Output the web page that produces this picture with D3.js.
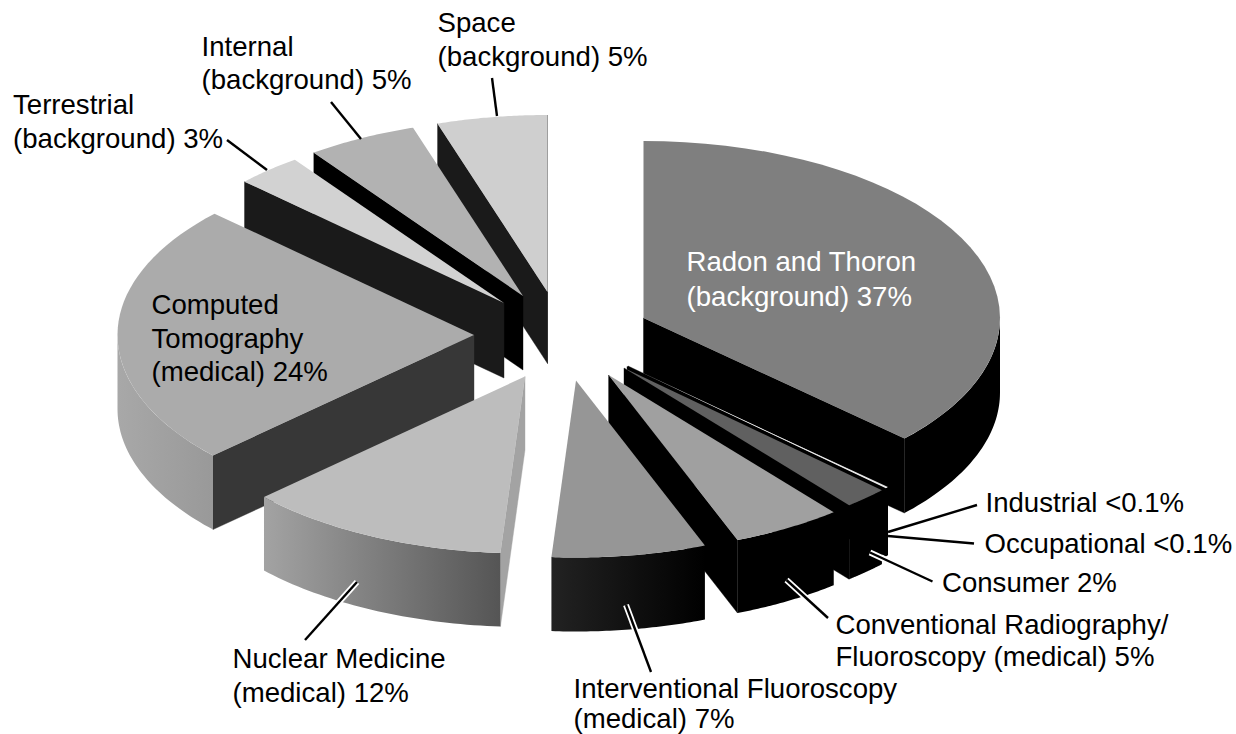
<!DOCTYPE html>
<html>
<head>
<meta charset="utf-8">
<script src="https://cdn.jsdelivr.net/npm/d3@7/dist/d3.min.js"></script>
<style>
html,body{margin:0;padding:0;background:#fff;overflow:hidden;}
svg{display:block;}
text{font-family:"Liberation Sans",Arial,sans-serif;font-size:27.6px;}
</style>
</head>
<body>
<svg id="chart" width="1236" height="734"></svg>
<script>
// ---- data ----
const categories = ["Radon and Thoron","Industrial","Occupational","Consumer","Conventional Radiography/Fluoroscopy","Interventional Fluoroscopy","Nuclear Medicine","Computed Tomography","Terrestrial","Internal","Space"];
const percentages = [37,0.1,0.1,2,5,7,12,24,3,5,5];
const labelLines = [
  ["Radon and Thoron","(background) 37%"],["Industrial <0.1%"],["Occupational <0.1%"],["Consumer 2%"],
  ["Conventional Radiography/","Fluoroscopy (medical) 5%"],["Interventional Fluoroscopy","(medical) 7%"],
  ["Nuclear Medicine","(medical) 12%"],["Computed","Tomography","(medical) 24%"],
  ["Terrestrial","(background) 3%"],["Internal","(background) 5%"],["Space","(background) 5%"]
];

// ---- layout and style ----
const W = 1236, H = 734, cx = 580, cy = 335, rx = 356.5, ry = 177;
const explodeX = [63.5,47,48,44,28.6,-4,-55,-106,-76,-57,-32.5];
const explodeY = [-17,31.5,31,33,40,45.5,41.5,0,-32,-39,-43];
const depths   = [74.5,68,68,74,73,74,73.5,74,75,74,71.5];
const topFill  = ["#7f7f7f","#d0d0d0","#eeeeee","#606060","#a0a0a0","#969696","#bdbdbd","#ababab","#d2d2d2","#b2b2b2","#cfcfcf"];
const cutFill  = ["#000","#000","#000","#000","#000","#000","#a3a3a3","#373737","#1a1a1a","#000","#1a1a1a"];
const wallFrom = ["#000","#000","#000","#000","#000","#222","#a3a3a3","#a8a8a8","#000","#000","#000"];
const wallTo   = ["#000","#000","#000","#000","#000","#000","#555555","#999999","#000","#000","#000"];
const labelX   = [686.5,985.5,984.5,942,835.5,573.5,232.5,151.5,13,201.5,437.5];
const labelY   = [[271,306],[512],[553],[592],[634,666],[698,728],[668,702],[314,348,381],[114,148],[56,89],[32,66]];
const labelFill= categories.map((d,i)=> i===0 ? "#fff" : "#000");
const leaders = [
  {from:[977,505],to:[888,532],halo:false},
  {from:[974,543.5],to:[888,536],halo:false},
  {from:[932.5,581.5],to:[870,552.5],halo:true},
  {from:[828,618],to:[786.5,580],halo:true},
  {from:[651,672],to:[626,605],halo:true},
  {from:[305,640],to:[357,582],halo:true},
  {from:[227,140],to:[267,170],halo:false},
  {from:[331,102],to:[361,139],halo:false},
  {from:[492,78],to:[497,116],halo:false}
];

const svg = d3.select("#chart");
const defs = svg.append("defs");
const total = d3.sum(percentages);

// true-percentage angles (labels add up to slightly above 100)
const arcs = d3.pie().sort(null).startAngle(0).endAngle(2*Math.PI*total/100)(percentages);

const pt = (i,a,r=1,dz=0)=>[
  cx+explodeX[i]+r*rx*Math.sin(a),
  cy+explodeY[i]-r*ry*Math.cos(a)+dz
];
const line = d3.line();
const sampled = (a0,a1)=>d3.range(0,41).map(k=>a0+(a1-a0)*k/40);

percentages.forEach((d,i)=>{
  const g = defs.append("linearGradient").attr("id","wall"+i);
  g.append("stop").attr("offset","0%").attr("stop-color",wallFrom[i]);
  g.append("stop").attr("offset","100%").attr("stop-color",wallTo[i]);
});

// painter's order: back slices first
const order = [10,9,8,7,0,1,2,3,4,5,6];
const pieG = svg.append("g");
order.forEach(i=>{
  const a = arcs[i], g = pieG.append("g").attr("data-name",categories[i]);
  const h = depths[i], s = a.startAngle, e = a.endAngle;
  const apex = pt(i,0,0), apexB = pt(i,0,0,h);
  const cut = ang => line([apex,pt(i,ang),pt(i,ang,1,h),apexB])+"Z";
  if (Math.sin(s) < 0) g.append("path").attr("d",cut(s)).attr("fill",cutFill[i]).attr("stroke",cutFill[i]).attr("stroke-width",0.4);
  if (Math.sin(e) > 0) g.append("path").attr("d",cut(e)).attr("fill",cutFill[i]).attr("stroke",cutFill[i]).attr("stroke-width",0.4);
  // outer wall: front half only
  const w0 = Math.max(s,Math.PI/2), w1 = Math.min(e,3*Math.PI/2);
  if (w1 > w0) {
    const angs = sampled(w0,w1);
    const top = angs.map(t=>pt(i,t)), bot = angs.map(t=>pt(i,t,1,h)).reverse();
    g.append("path").attr("d",line(top.concat(bot))+"Z").attr("fill",`url(#wall${i})`);
  }
  // top face
  const rim = sampled(s,e).map(t=>pt(i,t));
  g.append("path").attr("d",line([apex].concat(rim))+"Z").attr("fill",topFill[i]);
});

// leader lines
const lg = svg.append("g");
leaders.filter(l=>l.halo).forEach(l=>{
  lg.append("line").attr("x1",l.from[0]).attr("y1",l.from[1]).attr("x2",l.to[0]).attr("y2",l.to[1])
    .attr("stroke","#fff").attr("stroke-width",6);
});
leaders.forEach(l=>{
  lg.append("line").attr("x1",l.from[0]).attr("y1",l.from[1]).attr("x2",l.to[0]).attr("y2",l.to[1])
    .attr("stroke","#000").attr("stroke-width",2.4);
});

// labels
labelLines.forEach((lines,i)=>{
  const t = svg.append("text").attr("fill",labelFill[i]);
  lines.forEach((s,k)=>t.append("tspan").attr("x",labelX[i]).attr("y",labelY[i][k]).text(s));
});
</script>
</body>
</html>
